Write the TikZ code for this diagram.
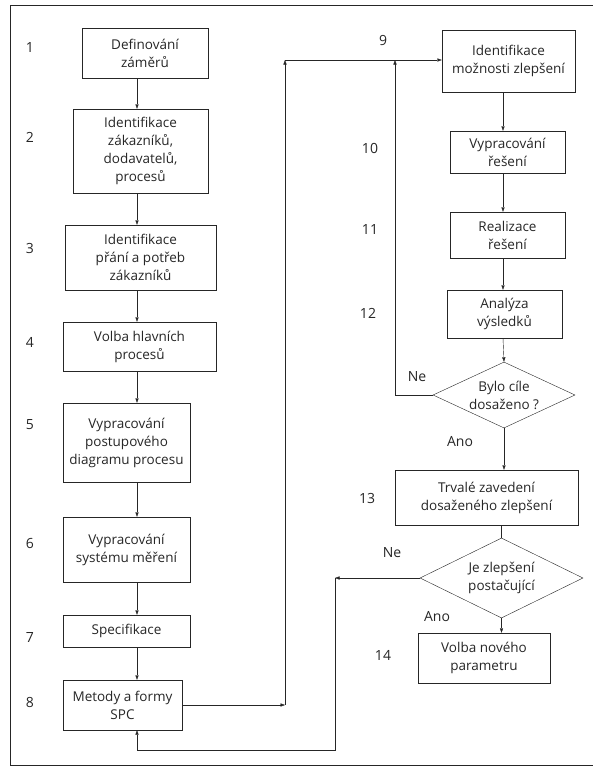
\documentclass[tikz,border=0pt]{standalone}
\usepackage{fontspec}
\setmainfont{Open Sans}
\definecolor{scanInk}{HTML}{262626}
\usetikzlibrary{arrows.meta,shapes.geometric}

\begin{document}
\begin{tikzpicture}[x=1pt,y=-1pt,thin,draw=scanInk,
                    font=\fontsize{13.5}{18}\selectfont,
                    box/.style={draw=scanInk,align=center,inner sep=1pt,text=scanInk},
                    test/.style={diamond,draw=scanInk,align=center,inner sep=0pt,text=scanInk},
                    num/.style={text=scanInk,font=\fontsize{14}{16}\selectfont},
                    tag/.style={text=scanInk,font=\fontsize{14}{16}\selectfont},
                    flow/.style={-{Triangle[length=4.5pt,width=3.2pt]}}]
  \useasboundingbox (0,0) rectangle (593,771);
  \draw (593,5) -- (10,5) -- (10,765) -- (593,765);

  \node[box,minimum width=126,minimum height=50] (b1) at (145,53)    {Definování\\záměrů};
  \node[box,minimum width=135,minimum height=84] (b2) at (140.5,151) {Identifikace\\zákazníků,\\dodavatelů,\\procesů};
  \node[box,minimum width=151,minimum height=65] (b3) at (140.5,257.5) {Identifikace\\přání a potřeb\\zákazníků};
  \node[box,minimum width=153,minimum height=49] (b4) at (139.5,346.5) {Volba hlavních\\procesů};
  \node[box,minimum width=127,minimum height=79] (b5) at (126.5,442.5) {Vypracování\\postupového\\diagramu procesu};
  \node[box,minimum width=127,minimum height=65] (b6) at (126.5,549.5) {Vypracování\\systému měření};
  \node[box,minimum width=127,minimum height=32] (b7) at (126.5,631)   {Specifikace};
  \node[box,minimum width=119,minimum height=50] (b8) at (122.5,705)   {Metody a formy\\SPC};

  \node[box,minimum width=133,minimum height=62] (b9)  at (508.5,61)  {Identifikace\\možnosti zlepšení};
  \node[box,minimum width=115,minimum height=42] (b10) at (507.5,152) {Vypracování\\řešení};
  \node[box,minimum width=115,minimum height=46] (b11) at (507.5,235) {Realizace\\řešení};
  \node[box,minimum width=115,minimum height=48] (b12) at (504.5,314) {Analýza\\výsledků};
  \node[test,minimum width=142,minimum height=66,aspect=2.15] (d1) at (504,395) {Bylo cíle\\dosaženo ?};
  \node[box,minimum width=183,minimum height=55] (b13) at (486.5,497.5) {Trvalé zavedení\\dosaženého zlepšení};
  \node[test,minimum width=163,minimum height=80,aspect=2.05] (d2) at (501.5,578) {Je zlepšení\\postačující};
  \node[box,minimum width=132,minimum height=50] (b14) at (484,658) {Volba nového\\parametru};

  \node[num] (n1) at (30,48)  {1};
  \node[num] (n2) at (30,137) {2};
  \node[num] (n3) at (30,248) {3};
  \node[num] (n4) at (30,342) {4};
  \node[num] (n5) at (30,425) {5};
  \node[num] (n6) at (30,543) {6};
  \node[num] (n7) at (30,637) {7};
  \node[num] (n8) at (30,702) {8};
  \node[num] (n9)  at (383,40)  {9};
  \node[num] (n10) at (370,148) {10};
  \node[num] (n11) at (370,230) {11};
  \node[num] (n12) at (368,313) {12};
  \node[num] (n13) at (367,498) {13};
  \node[num] (n14) at (383,655) {14};

  \node[tag] (ne1)  at (417,377) {Ne};
  \node[tag] (ano1) at (460,442) {Ano};
  \node[tag] (ne2)  at (392,553) {Ne};
  \node[tag] (ano2) at (437,617) {Ano};

  \coordinate (colL) at (137,0);
  \coordinate (colR) at (503,0);
  \coordinate (jA) at (285,60);
  \coordinate (jB) at (395,60);
  \coordinate (back) at (335,750);

  \draw[flow] (b1.south -| colL) -- (b2.north -| colL);
  \draw[flow] (b2.south -| colL) -- (b3.north -| colL);
  \draw[flow] (b3.south -| colL) -- (b4.north -| colL);
  \draw[flow] (b4.south -| colL) -- (b5.north -| colL);
  \draw[flow] (b5.south -| colL) -- (b6.north -| colL);
  \draw[flow] (b6.south -| colL) -- (b7.north -| colL);
  \draw[flow] (b7.south -| colL) -- (b8.north -| colL);

  \draw[flow] (b8.east) -- (b8.east -| jA);
  \draw[flow] (b8.east -| jA) -- (jA);
  \draw[flow] (jA) -- (b9.west |- jA);

  \draw[flow] (b9.south -| colR) -- (b10.north -| colR);
  \draw[flow] (b10.south -| colR) -- (b11.north -| colR);
  \draw[flow] (b11.south -| colR) -- (b12.north -| colR);
  \draw[flow] (b12.south -| colR) -- (d1.north);
  \draw[flow] (d1.south) -- (b13.north -| d1.south);
  \draw (b13.south -| d2.north) -- (d2.north);
  \draw[flow] (d2.south) -- (b14.north -| d2.south);

  \draw[flow] (d1.west) -| (jB);
  \draw[flow] (d2.west) -- (d2.west -| back);
  \draw[flow] (d2.west -| back) -- (back) -| (b8.south -| colL);
\end{tikzpicture}
\end{document}
